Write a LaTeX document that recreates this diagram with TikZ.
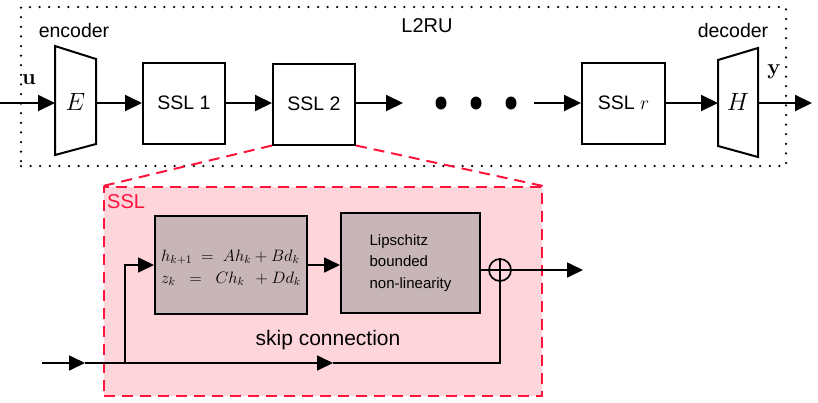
\RequirePackage{fix-cm}
\documentclass[tikz,border=0pt]{standalone}
\usepackage[no-math]{fontspec}
\setmainfont{Liberation Sans}
\usetikzlibrary{arrows.meta,shapes.geometric}
\definecolor{sslred}{RGB}{255,20,60}
\definecolor{sslpink}{RGB}{255,213,220}
\definecolor{blockgray}{RGB}{200,181,184}
\tikzset{
  arr/.style={line width=2pt,-{Triangle[length=17pt,width=16pt]}},
  arrs/.style={line width=1.7pt,-{Triangle[length=16pt,width=15pt]}},
  plain/.style={line width=1.7pt},
  sslblock/.style={draw,line width=2pt,minimum width=82pt,minimum height=81pt,inner sep=0pt,font=\fontsize{19.5}{22}\selectfont},
  graybox/.style={draw,line width=2pt,fill=blockgray,inner sep=0pt},
  lbl/.style={inner sep=0pt,font=\fontsize{19.5}{22}\selectfont},
  trap/.style={line width=2pt,fill=white},
  reddash/.style={draw=sslred,line width=2pt,dash pattern=on 11pt off 7pt},
  dots/.style={line width=2.5pt,dash pattern=on 0pt off 9.6pt,line cap=round}
}
\begin{document}
\begin{tikzpicture}[x=1pt,y=-1pt]
\useasboundingbox (0,0) rectangle (818,402);
% outer dotted frame
\node[dots,draw,minimum width=765pt,minimum height=159pt,inner sep=0pt] (frame) at (403.5,86.5) {};
\node[lbl,font=\fontsize{20}{22}\selectfont] (l2ru) at (427,26) {L2RU};
\node[lbl] (enclbl) at (74,31) {encoder};
\node[lbl] (declbl) at (733,31) {decoder};
% encoder / decoder trapezoids
\draw[trap] (55,46) -- (96,59) -- (96,144) -- (55,155) -- cycle;
\draw[trap] (718,60) -- (758,48) -- (758,157) -- (718,146) -- cycle;
\node[inner sep=0pt,font=\fontsize{25}{27}\selectfont] (E) at (75.5,102) {$E$};
\node[inner sep=0pt,font=\fontsize{25}{27}\selectfont] (H) at (738,102) {$H$};
\coordinate (Ein) at (55,103);
\coordinate (Eout) at (96,103);
\coordinate (Hin) at (718,103);
\coordinate (Hout) at (758,103);
\coordinate (uin) at (0,103);
\coordinate (yout) at (812,103);
\node[inner sep=0pt,font=\fontsize{22}{24}\selectfont] (u) at (29,80) {$\mathbf{u}$};
\node[inner sep=0pt,font=\fontsize{22}{24}\selectfont] (y) at (774,72) {$\mathbf{y}$};
% SSL blocks
\node[sslblock] (S1) at (184,103) {SSL 1};
\node[sslblock] (S2) at (314,104) {SSL 2};
\node[sslblock,minimum width=83pt] (Sr) at (623.5,103) {SSL $r$};
\coordinate (S2out) at (403,103);
\coordinate (Srin) at (534,103);
% ellipsis dots
\fill (441,103) ellipse (5.5pt and 6.5pt);
\fill (476,103) ellipse (5.5pt and 6.5pt);
\fill (511,103) ellipse (5.5pt and 6.5pt);
% top connectors
\draw[arr] (uin) -- (Ein);
\draw[arr] (Eout) -- (S1.west);
\draw[arr] (S1.east) -- (S1.east -| S2.west);
\draw[arr] (S1.east -| S2.east) -- (S2out);
\draw[arr] (Srin) -- (Sr.west);
\draw[arr] (Sr.east) -- (Hin);
\draw[arr] (Hout) -- (yout);
% SSL detail box
\node[reddash,fill=sslpink,minimum width=438pt,minimum height=209pt,inner sep=0pt] (ssl) at (323,291.5) {};
\draw[reddash] (S2.south west) -- (ssl.north west);
\draw[reddash] (S2.south east) -- (ssl.north east);
\node[inner sep=0pt,anchor=west,text=sslred,font=\fontsize{20}{22}\selectfont] (ssllbl) at (107,202) {SSL};
\node[graybox,minimum width=152pt,minimum height=98pt] (state) at (231,265) {};
\node[inner sep=0pt,align=left,font=\fontsize{16.5}{22}\selectfont] (eqs) at (231,268)
  {$h_{k+1} \;=\; Ah_k + Bd_k$\\ $z_k \;\;=\;\; Ch_k \;\,+ Dd_k$};
\node[graybox,minimum width=139pt,minimum height=100pt,align=left,font=\fontsize{15}{21.5}\selectfont] (lip) at (410.5,263) {Lipschitz\\bounded\\non-linearity};
\node[draw,circle,line width=1.7pt,minimum size=22pt,inner sep=0pt] (sum) at (500,270) {};
\draw[plain] (sum.north) -- (sum.south);
\draw[plain] (sum.west) -- (sum.east);
\node[inner sep=0pt,font=\fontsize{21}{24}\selectfont] (skip) at (328,340) {skip connection};
\coordinate (in2) at (42,363);
\coordinate (m1) at (85,363);
\coordinate (br) at (125,363);
\coordinate (m2) at (333,363);
\coordinate (out2) at (583,270);
\draw[arrs] (state.east) -- (state.east -| lip.west);
\draw[plain] (lip.east |- sum) -- (sum.west);
\draw[arrs] (sum.east) -- (out2);
\draw[arrs] (in2) -- (m1);
\draw[arrs] (m1) -- (m2);
\draw[plain] (m2) -- (sum |- m2) -- (sum.south);
\draw[arrs] (br) |- (state.west);
\end{tikzpicture}
\end{document}
